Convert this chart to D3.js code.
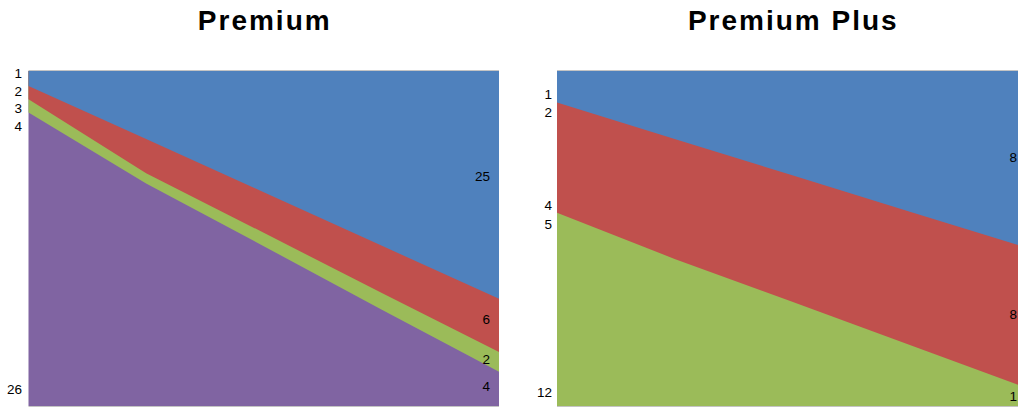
<!DOCTYPE html>
<html>
<head>
<meta charset="utf-8">
<script src="https://cdn.jsdelivr.net/npm/d3@7"></script>
<style>
  html, body { margin: 0; padding: 0; background: #ffffff; }
  svg { display: block; }
</style>
</head>
<body>
<svg id="chart" width="1018" height="409"></svg>
<script>
// ---------- data (percent of each stack) ----------
const categories = ["P1", "P2", "P3", "P4", "P5"];

// Premium panel (bottom to top: purple, green, red, blue)
const premiumPurple = [87.6, 66.4, 47.7, 28.8, 10.2];
const premiumGreen  = [4.0, 3.1, 4.0, 5.0, 5.9];
const premiumRed    = [3.9, 10.2, 12.1, 14.1, 15.9];
const premiumBlue   = [4.5, 20.3, 36.2, 52.1, 68.0];

// Premium Plus panel (bottom to top: green, red, blue)
const plusGreen = [57.7, 43.9, 31.1, 18.2, 5.3];
const plusRed   = [32.9, 35.8, 37.8, 39.8, 41.9];
const plusBlue  = [9.4, 20.3, 31.1, 42.0, 52.8];

// text labels
const titles = ["Premium", "Premium Plus"];
const premiumLeftLabels  = ["1", "2", "3", "4", "26"];
const premiumLeftPos     = [99.4, 94.1, 89.0, 83.4, 4.9];
const premiumRightLabels = ["25", "6", "2", "4"];
const premiumRightPos    = [68.5, 26.0, 14.1, 5.8];
const plusLeftLabels  = ["1", "2", "4", "5", "12"];
const plusLeftPos     = [93.2, 87.8, 59.9, 54.3, 4.1];
const plusRightLabels = ["8", "8", "1"];
const plusRightPos    = [74.2, 27.5, 2.9];

// ---------- drawing ----------
const svg = d3.select("#chart");
const colors = { purple: "#8064A2", green: "#9BBB59", red: "#C0504D", blue: "#4F81BD" };

const panels = [
  {
    title: titles[0], x0: 28.5, x1: 499,
    keys: ["purple", "green", "red", "blue"],
    series: { purple: premiumPurple, green: premiumGreen, red: premiumRed, blue: premiumBlue },
    leftLabels: premiumLeftLabels, leftPos: premiumLeftPos, leftX: 22,
    rightLabels: premiumRightLabels, rightPos: premiumRightPos, rightX: 490
  },
  {
    title: titles[1], x0: 557, x1: 1027.5,
    keys: ["green", "red", "blue"],
    series: { green: plusGreen, red: plusRed, blue: plusBlue },
    leftLabels: plusLeftLabels, leftPos: plusLeftPos, leftX: 552,
    rightLabels: plusRightLabels, rightPos: plusRightPos, rightX: 1017
  }
];

const yTop = 71, yBottom = 406;
const y = d3.scaleLinear().domain([0, 100]).range([yBottom, yTop]);

panels.forEach(p => {
  const g = svg.append("g");
  const x = d3.scalePoint().domain(categories).range([p.x0, p.x1]).padding(0);

  const rows = categories.map((c, i) => {
    const r = { cat: c };
    p.keys.forEach(k => { r[k] = p.series[k][i]; });
    return r;
  });
  const stacked = d3.stack().keys(p.keys).offset(d3.stackOffsetExpand)(rows);

  // each layer drawn from its lower edge to the top; later layers cover earlier
  const area = d3.area()
    .x(d => x(d.data.cat))
    .y0(d => y(d[0] * 100))
    .y1(() => y(100));

  g.selectAll("path.layer")
    .data(stacked)
    .join("path")
    .attr("class", "layer")
    .attr("d", area)
    .attr("fill", d => colors[d.key]);

  // plot area top/bottom rules
  g.append("line")
    .attr("x1", p.x0).attr("x2", p.x1)
    .attr("y1", yTop - 0.5).attr("y2", yTop - 0.5)
    .attr("stroke", "#c4c4c4").attr("stroke-width", 1);
  g.append("line")
    .attr("x1", p.x0).attr("x2", p.x1)
    .attr("y1", yBottom + 0.5).attr("y2", yBottom + 0.5)
    .attr("stroke", "#c4c4c4").attr("stroke-width", 1);

  // title
  g.append("text")
    .attr("x", (p.x0 + p.x1) / 2 + 1)
    .attr("y", 29.5)
    .attr("text-anchor", "middle")
    .attr("font-family", "'Liberation Sans', Arial, sans-serif")
    .attr("font-weight", "bold")
    .attr("font-size", 28)
    .attr("letter-spacing", 2)
    .attr("fill", "#000")
    .text(p.title);

  const labelFont = "'Liberation Sans', Arial, sans-serif";
  g.selectAll("text.left")
    .data(p.leftLabels)
    .join("text")
    .attr("class", "left")
    .attr("x", p.leftX)
    .attr("y", (d, i) => y(p.leftPos[i]))
    .attr("dy", "0.36em")
    .attr("text-anchor", "end")
    .attr("font-family", labelFont)
    .attr("font-size", 13.5)
    .attr("fill", "#000")
    .text(d => d);

  g.selectAll("text.right")
    .data(p.rightLabels)
    .join("text")
    .attr("class", "right")
    .attr("x", p.rightX)
    .attr("y", (d, i) => y(p.rightPos[i]))
    .attr("dy", "0.36em")
    .attr("text-anchor", "end")
    .attr("font-family", labelFont)
    .attr("font-size", 13.5)
    .attr("fill", "#000")
    .text(d => d);
});
</script>
</body>
</html>
